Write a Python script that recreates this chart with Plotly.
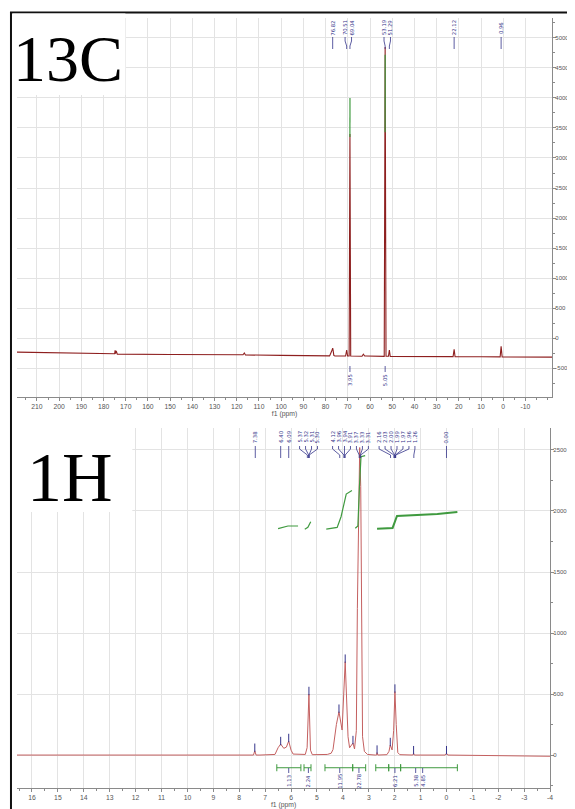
import plotly.graph_objects as go

# ---------------- 13C spectrum (ppm, intensity) ----------------
c13_ppm = [219, 176, 175.0, 174.8, 174.6, 174.3, 174.1, 173.8, 150, 117.2, 116.6, 116.1,
           100, 78.2, 77.4, 77.05, 76.8, 76.6, 76.3, 75.8, 71.0, 70.51, 70.1, 69.4, 69.04,
           68.7, 66, 63.6, 63.0, 62.4, 61.8, 55, 53.6, 53.19, 52.8, 51.7, 51.29, 50.9, 40,
           22.6, 22.12, 21.7, 10, 1.4, 0.96, 0.5, -22]
c13_int = [-235, -262, -262, -205, -262, -215, -262, -268, -275, -280, -250, -282,
           -290, -298, -230, -185, -170, -210, -290, -300, -300, -200, -300, -300, 3400,
           -300, -303, -303, -270, -300, -300, -305, -305, 4850, -305, -305, -200, -307, -308,
           -310, -190, -312, -313, -315, -140, -315, -318]

# 13C integral curves (green)
c13_integ_ppm = [[69.06, 69.02], [53.21, 53.17]]
c13_integ_val = [[3350, 4000], [3430, 4720]]
c13_integ_labels = ["3.95", "5.05"]
c13_integ_label_ppm = [69.04, 53.19]

# 13C peak labels
c13_peak_labels = ["76.82", "70.51", "69.04", "53.19", "51.29", "22.12", "0.96"]
c13_peak_ppm = [76.82, 70.51, 69.04, 53.19, 51.29, 22.12, 0.96]

# ---------------- 1H spectrum (ppm, intensity) ----------------
h1_ppm = [16.58, 15, 10, 7.6, 7.45, 7.40, 7.35, 7.2, 6.62, 6.50, 6.40, 6.28, 6.18, 6.09,
          6.00, 5.92, 5.6, 5.45, 5.38, 5.31, 5.25, 5.18, 4.6, 4.45, 4.38, 4.25, 4.15, 4.03,
          3.91, 3.80, 3.74, 3.66, 3.61, 3.55, 3.48, 3.44, 3.38, 3.35, 3.31, 3.28, 3.24,
          3.17, 3.05, 2.75, 2.70, 2.68, 2.65, 2.3, 2.22, 2.17, 2.10, 2.04, 1.99, 1.94,
          1.88, 1.8, 1.3, 1.27, 1.24, 0.05, 0.0, -0.05, -2, -4.0]
h1_int = [0, 0, 0, 0, 0, 35, 0, 0, 5, 60, 90, 55, 65, 115,
          40, 8, 3, 5, 60, 500, 40, 3, 5, 15, 45, 250, 355, 205,
          765, 150, 60, 90, 98, 50, 200, 1200, 2400, 2520, 2200, 1000, 150,
          30, 5, 0, 0, 20, 0, 3, 30, 82, 42, 200, 520, 250,
          20, 3, 0, 15, 0, 0, 15, 0, -3, -10]

# peak-pick markers
h1_mark_ppm = [7.40, 6.40, 6.09, 5.31, 4.15, 3.91, 3.61, 2.68, 2.17, 1.99, 1.27, 0.0]
h1_mark_val = [35, 90, 115, 500, 355, 765, 98, 20, 82, 520, 15, 15]

# 1H integral curves (green)
h1_integ_ppm = [[6.50, 6.12, 5.73],
                [5.47, 5.35, 5.24],
                [4.64, 4.22, 4.07, 3.87, 3.65],
                [3.52, 3.42, 3.36, 3.30, 3.14],
                [2.68, 2.08, 1.91, 0.35, -0.42]]
h1_integ_val = [[1855, 1877, 1877],
                [1850, 1866, 1912],
                [1852, 1866, 1953, 2139, 2167],
                [1858, 1877, 2199, 2445, 2453],
                [1855, 1861, 1959, 1975, 1992]]

# 1H integration regions and values
h1_region_bounds = [(6.55, 5.62), (5.50, 5.23), (4.69, 3.62), (3.62, 3.12),
                    (2.73, 2.23), (2.23, 1.77), (1.77, -0.42)]
h1_integ_labels = ["1.13", "2.24", "11.95", "22.78", "6.21", "5.38", "4.85"]
h1_integ_label_ppm = [6.09, 5.33, 4.12, 3.38, 1.99, 1.19, 0.92]

# 1H peak labels
h1_peak_labels = ["7.38", "6.40", "6.09", "5.37", "5.32", "5.31", "5.30",
                  "4.12", "3.96", "3.94", "3.91", "3.37", "3.33", "3.31",
                  "2.16", "2.03", "2.00", "1.99", "1.97", "1.96", "1.26", "0.00"]
h1_peak_ppm = [7.38, 6.40, 6.09, 5.37, 5.32, 5.31, 5.30,
               4.12, 3.96, 3.94, 3.91, 3.37, 3.33, 3.31,
               2.16, 2.03, 2.00, 1.99, 1.97, 1.96, 1.26, 0.00]

# tick labels
c13_xticks = list(range(210, -11, -10))
c13_yticks = list(range(-500, 5001, 500))
h1_xticks = list(range(16, -5, -1))
h1_yticks = list(range(0, 2501, 500))

# ---------------- layout geometry (screen pixels) ----------------
OFF = 8                      # page body margin
FW, FH = 575 - OFF, 809 - OFF

TOP = dict(x0=17, x1=555, y0=18, y1=397, xr=(219, -22), yr=(-983, 5333))
BOT = dict(x0=17, x1=553, y0=428, y1=788, xr=(16.58, -4.0), yr=(-270, 2680))

BLUE = "#34348a"
GREEN = "#3f9a3f"
GRID = "#e3e3e3"
AXC = "#8a8a8a"
TXT = "#555555"


def px(x):
    return (x - OFF) / FW


def py(y):
    return 1 - (y - OFF) / FH


def px_to_ppm(p, g):
    a, b = g["xr"]
    return a + (p - g["x0"]) * (b - a) / (g["x1"] - g["x0"])


def ppm_to_px(v, g):
    a, b = g["xr"]
    return g["x0"] + (v - a) * (g["x1"] - g["x0"]) / (b - a)


def spread(targets, gap):
    clusters = [[t] for t in sorted(targets)]
    changed = True
    while changed:
        changed = False
        for i in range(len(clusters) - 1):
            a, b = clusters[i], clusters[i + 1]
            ca, cb = sum(a) / len(a), sum(b) / len(b)
            if (cb - (len(b) - 1) / 2 * gap) - (ca + (len(a) - 1) / 2 * gap) < gap:
                clusters[i] = a + b
                del clusters[i + 1]
                changed = True
                break
    out = []
    for c in clusters:
        cen = sum(c) / len(c)
        for k in range(len(c)):
            out.append(cen + (k - (len(c) - 1) / 2) * gap)
    return out


fig = go.Figure()

# 13C spectrum
fig.add_trace(go.Scatter(x=c13_ppm, y=c13_int, mode="lines",
                         line=dict(color="#8e1f1f", width=1.1),
                         xaxis="x", yaxis="y", hoverinfo="skip"))
for xs, ys in zip(c13_integ_ppm, c13_integ_val):
    fig.add_trace(go.Scatter(x=xs, y=ys, mode="lines", line=dict(color=GREEN, width=1.2),
                             xaxis="x", yaxis="y", hoverinfo="skip"))

# 1H spectrum
fig.add_trace(go.Scatter(x=h1_ppm, y=h1_int, mode="lines",
                         line=dict(color="#c46060", width=1),
                         xaxis="x2", yaxis="y2", hoverinfo="skip"))
fig.add_trace(go.Scatter(x=h1_mark_ppm, y=[v + 25 for v in h1_mark_val], mode="markers",
                         marker=dict(symbol="line-ns", size=6,
                                     line=dict(color=BLUE, width=1)),
                         xaxis="x2", yaxis="y2", hoverinfo="skip"))
for i, (xs, ys) in enumerate(zip(h1_integ_ppm, h1_integ_val)):
    fig.add_trace(go.Scatter(x=xs, y=ys, mode="lines",
                             line=dict(color=GREEN, width=2 if i == 4 else 1.2),
                             xaxis="x2", yaxis="y2", hoverinfo="skip"))

# 1H integration bars
bar_val = -104
for (a, b) in h1_region_bounds:
    fig.add_trace(go.Scatter(x=[a, b], y=[bar_val, bar_val], mode="lines+markers",
                             line=dict(color=GREEN, width=1),
                             marker=dict(symbol="line-ns", size=5,
                                         line=dict(color=GREEN, width=1)),
                             xaxis="x2", yaxis="y2", hoverinfo="skip"))

shapes = []
annotations = []

# frame lines
shapes.append(dict(type="line", xref="paper", yref="paper", x0=px(10), x1=px(575),
                   y0=py(12.5), y1=py(12.5), line=dict(color="#111", width=2)))
shapes.append(dict(type="line", xref="paper", yref="paper", x0=px(11), x1=px(11),
                   y0=py(12), y1=py(809), line=dict(color="#111", width=2)))

# white label boxes
shapes.append(dict(type="rect", xref="paper", yref="paper", x0=px(12.5), x1=px(126),
                   y0=py(95), y1=py(13.5), fillcolor="white", line=dict(width=0),
                   layer="above"))
shapes.append(dict(type="rect", xref="paper", yref="paper", x0=px(12.5), x1=px(133),
                   y0=py(512), y1=py(427), fillcolor="white", line=dict(width=0),
                   layer="above"))
annotations.append(dict(text="13C", xref="paper", yref="paper", x=px(68), y=py(58),
                        showarrow=False, xanchor="center", yanchor="middle",
                        font=dict(family="Liberation Serif", size=66, color="black")))
annotations.append(dict(text="1H", xref="paper", yref="paper", x=px(70), y=py(477),
                        showarrow=False, xanchor="center", yanchor="middle",
                        font=dict(family="Liberation Serif", size=70, color="black")))


def peak_labels(labels, ppms, g, xref, ytext, ylines, gap):
    tpx = [ppm_to_px(v, g) for v in ppms]
    order = sorted(range(len(tpx)), key=lambda i: tpx[i])
    lpx = spread([tpx[i] for i in order], gap)
    for k, i in enumerate(order):
        lx = px_to_ppm(lpx[k], g)
        tx = ppms[i]
        annotations.append(dict(text=labels[i], xref=xref, yref="paper", x=lx, y=py(ytext),
                                textangle=-90, showarrow=False, xanchor="center",
                                yanchor="middle",
                                font=dict(family="DejaVu Sans", size=5.3, color=BLUE)))
        y0, y1, y2, y3 = ylines
        for (xa, ya, xb, yb) in [(lx, y0, lx, y1), (lx, y1, tx, y2), (tx, y2, tx, y3)]:
            shapes.append(dict(type="line", xref=xref, yref="paper", x0=xa, x1=xb,
                               y0=py(ya), y1=py(yb), line=dict(color=BLUE, width=0.8)))


peak_labels(c13_peak_labels, c13_peak_ppm, TOP, "x", 28, (37, 41, 46, 49), 6.5)
peak_labels(h1_peak_labels, h1_peak_ppm, BOT, "x2", 437, (446, 449, 455, 458), 6.0)

# integral labels under the spectra
for lab, v in zip(c13_integ_labels, c13_integ_label_ppm):
    shapes.append(dict(type="line", xref="x", yref="paper", x0=v, x1=v,
                       y0=py(366), y1=py(372), line=dict(color=BLUE, width=0.8)))
    annotations.append(dict(text=lab, xref="x", yref="paper", x=v, y=py(380),
                            textangle=-90, showarrow=False, xanchor="center",
                            yanchor="middle",
                            font=dict(family="DejaVu Sans", size=5.3, color=BLUE)))
for lab, v in zip(h1_integ_labels, h1_integ_label_ppm):
    shapes.append(dict(type="line", xref="x2", yref="paper", x0=v, x1=v,
                       y0=py(768), y1=py(773), line=dict(color=BLUE, width=0.8)))
    annotations.append(dict(text=lab, xref="x2", yref="paper", x=v, y=py(781),
                            textangle=-90, showarrow=False, xanchor="center",
                            yanchor="middle",
                            font=dict(family="DejaVu Sans", size=5.3, color=BLUE)))


def fmt(v):
    return ("-" + str(-v)) if v < 0 else str(v)


tickfont = dict(family="Liberation Sans", size=6.8, color=TXT)
ytickfont = dict(family="Liberation Sans", size=6.0, color=TXT)
common_x = dict(showgrid=True, gridcolor=GRID, gridwidth=1, zeroline=False,
                showline=True, linecolor=AXC, linewidth=1, ticks="outside",
                ticklen=3, tickcolor=AXC, tickfont=tickfont)
common_y = dict(showgrid=True, gridcolor=GRID, gridwidth=1, zeroline=False,
                showline=True, linecolor=AXC, linewidth=1, ticks="outside",
                ticklen=3, tickcolor=AXC, tickfont=ytickfont, side="right",
                ticklabelstandoff=-2)

fig.update_layout(
    width=FW, height=FH, margin=dict(l=0, r=0, t=0, b=0),
    paper_bgcolor="white", plot_bgcolor="white", showlegend=False,
    xaxis=dict(domain=[px(TOP["x0"]), px(TOP["x1"])], range=list(TOP["xr"]), anchor="y",
               tickvals=c13_xticks, ticktext=[fmt(v) for v in c13_xticks],
               minor=dict(dtick=5, tick0=0, ticks="outside", ticklen=2, tickcolor=AXC,
                          showgrid=False),
               title=dict(text="f1 (ppm)", font=dict(family="Liberation Sans", size=6.8,
                                                      color=TXT), standoff=0),
               **common_x),
    yaxis=dict(domain=[py(TOP["y1"]), py(TOP["y0"])], range=list(TOP["yr"]), anchor="x",
               tickvals=c13_yticks, ticktext=[fmt(v) for v in c13_yticks],
               minor=dict(dtick=250, tick0=0, ticks="outside", ticklen=2, tickcolor=AXC,
                          showgrid=False),
               **common_y),
    xaxis2=dict(domain=[px(BOT["x0"]), px(BOT["x1"])], range=list(BOT["xr"]), anchor="y2",
                tickvals=h1_xticks, ticktext=[fmt(v) for v in h1_xticks],
                minor=dict(dtick=0.5, tick0=0, ticks="outside", ticklen=2, tickcolor=AXC,
                           showgrid=False),
                title=dict(text="f1 (ppm)", font=dict(family="Liberation Sans", size=6.8,
                                                       color=TXT), standoff=0),
                **common_x),
    yaxis2=dict(domain=[py(BOT["y1"]), py(BOT["y0"])], range=list(BOT["yr"]), anchor="x2",
                tickvals=h1_yticks, ticktext=[fmt(v) for v in h1_yticks],
                minor=dict(dtick=250, tick0=0, ticks="outside", ticklen=2, tickcolor=AXC,
                           showgrid=False),
                **common_y),
    shapes=shapes, annotations=annotations,
)

fig.write_html("out.html")
